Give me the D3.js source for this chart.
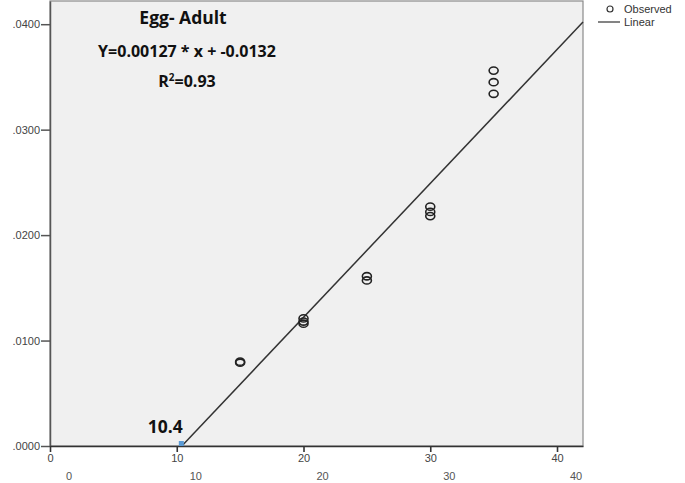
<!DOCTYPE html>
<html>
<head>
<meta charset="utf-8">
<script src="https://cdn.jsdelivr.net/npm/d3@7"></script>
<style>
  body { margin: 0; background: #fff; }
  svg { display: block; font-family: 'Liberation Sans', Arial, sans-serif; }
</style>
</head>
<body>
<div class="chart"></div>
<script>
'use strict';

// observed points (temperature, development rate)
const obsX = [15, 15, 20, 20, 20, 25, 25, 30, 30, 30, 35, 35, 35];
const obsY = [0.0079, 0.0080, 0.0116, 0.0118, 0.0121, 0.0157, 0.0161, 0.0218, 0.0222, 0.0227, 0.0334, 0.0345, 0.0356];

const slope = 0.00127;
const intercept = -0.0132;
const threshold = 10.4;

const xTicks = [0, 10, 20, 30, 40];
const yTicks = [0, 0.01, 0.02, 0.03, 0.04];

const WIDTH = 685;
const HEIGHT = 483;
const margin = {left: 50, top: 1, right: 102, bottom: 37};

const svg = d3.select('.chart')
  .append('svg')
    .attr('width', WIDTH)
    .attr('height', HEIGHT);

const x = d3.scaleLinear()
    .domain([0, 42.05])
    .range([margin.left, WIDTH - margin.right]);

const y = d3.scaleLinear()
    .domain([0, 0.0422])
    .range([HEIGHT - margin.bottom, margin.top]);

// plot background
svg.append('rect')
    .attr('x', x(0))
    .attr('y', y(0.0422))
    .attr('width', x(42.05) - x(0))
    .attr('height', y(0) - y(0.0422))
    .attr('fill', '#f0f0f0')
    .attr('stroke', '#8a8a8a')
    .attr('stroke-width', 1.2);

// y axis
const yAxis = svg.append('g')
    .attr('transform', `translate(${x(0)},0)`)
    .call(d3.axisLeft(y).tickValues(yTicks).tickSize(9).tickSizeOuter(0)
      .tickFormat((d) => d3.format('.4f')(d).replace(/^0/, '')));
yAxis.select('.domain').attr('stroke', '#555').attr('stroke-width', 1.5);
yAxis.selectAll('.tick line').attr('stroke', '#555').attr('stroke-width', 1.5);
yAxis.selectAll('.tick text')
    .attr('x', -10)
    .attr('fill', '#444')
    .style('font-size', '11px');

// x axis
const xAxis = svg.append('g')
    .attr('transform', `translate(0,${y(0)})`)
    .call(d3.axisBottom(x).tickValues(xTicks).tickSize(6).tickSizeOuter(0).tickFormat(d3.format('d')));
xAxis.select('.domain').attr('stroke', '#333').attr('stroke-width', 1.6);
xAxis.selectAll('.tick line').attr('stroke', '#333').attr('stroke-width', 1.6);
xAxis.selectAll('.tick text')
    .attr('y', 8)
    .attr('fill', '#444')
    .style('font-size', '11px');

// the second, shifted row of x labels
svg.append('g')
  .selectAll('text')
  .data(xTicks)
  .enter().append('text')
    .attr('x', (d) => x(d) + 19)
    .attr('y', y(0) + 34)
    .attr('text-anchor', 'middle')
    .attr('fill', '#555')
    .style('font-size', '11px')
    .text((d) => d);

// fit line
const lineX = [threshold, 42.05];
svg.append('path')
    .datum(lineX)
    .attr('fill', 'none')
    .attr('stroke', '#333')
    .attr('stroke-width', 1.5)
    .attr('d', d3.line()
      .x((d) => x(d))
      .y((d) => y(slope * d + intercept)));

// threshold marker
svg.append('rect')
    .attr('x', x(threshold) - 3)
    .attr('y', y(0) - 5)
    .attr('width', 5)
    .attr('height', 5)
    .attr('fill', '#5b9bd5');

svg.append('text')
    .attr('x', x(threshold) + 1)
    .attr('y', y(0) - 13)
    .attr('text-anchor', 'end')
    .attr('font-weight', 'bold')
    .style('font-family', "'Open Sans', sans-serif")
    .style('font-size', '17.5px')
    .attr('fill', '#111')
    .text('10.4');

// observed points
svg.append('g')
  .selectAll('ellipse')
  .data(obsX.map((d, i) => [d, obsY[i]]))
  .enter().append('ellipse')
    .attr('cx', (d) => x(d[0]))
    .attr('cy', (d) => y(d[1]))
    .attr('rx', 4.5)
    .attr('ry', 3.6)
    .attr('fill', 'none')
    .attr('stroke', '#222')
    .attr('stroke-width', 1.6);

// annotation
const note = svg.append('g')
    .style('font-family', "'Open Sans', sans-serif")
    .attr('font-weight', 'bold')
    .attr('fill', '#111')
    .attr('text-anchor', 'middle');

note.append('text')
    .attr('x', 183)
    .attr('y', 24)
    .style('font-size', '17.5px')
    .text('Egg- Adult');

note.append('text')
    .attr('x', 187)
    .attr('y', 57)
    .style('font-size', '16px')
    .text('Y=0.00127 * x + -0.0132');

const r2 = note.append('text')
    .attr('x', 187)
    .attr('y', 87)
    .style('font-size', '16px');
r2.append('tspan').text('R');
r2.append('tspan').attr('dy', -6).style('font-size', '10px').text('2');
r2.append('tspan').attr('dy', 6).text('=0.93');

// legend
const legend = svg.append('g')
    .style('font-size', '11px')
    .attr('fill', '#333');

legend.append('circle')
    .attr('cx', 610)
    .attr('cy', 9)
    .attr('r', 3)
    .attr('fill', 'none')
    .attr('stroke', '#333')
    .attr('stroke-width', 1.2);
legend.append('text')
    .attr('x', 624)
    .attr('y', 13)
    .text('Observed');

legend.append('line')
    .attr('x1', 598)
    .attr('x2', 620)
    .attr('y1', 22)
    .attr('y2', 22)
    .attr('stroke', '#333')
    .attr('stroke-width', 1.2);
legend.append('text')
    .attr('x', 624)
    .attr('y', 26)
    .text('Linear');
</script>
</body>
</html>
